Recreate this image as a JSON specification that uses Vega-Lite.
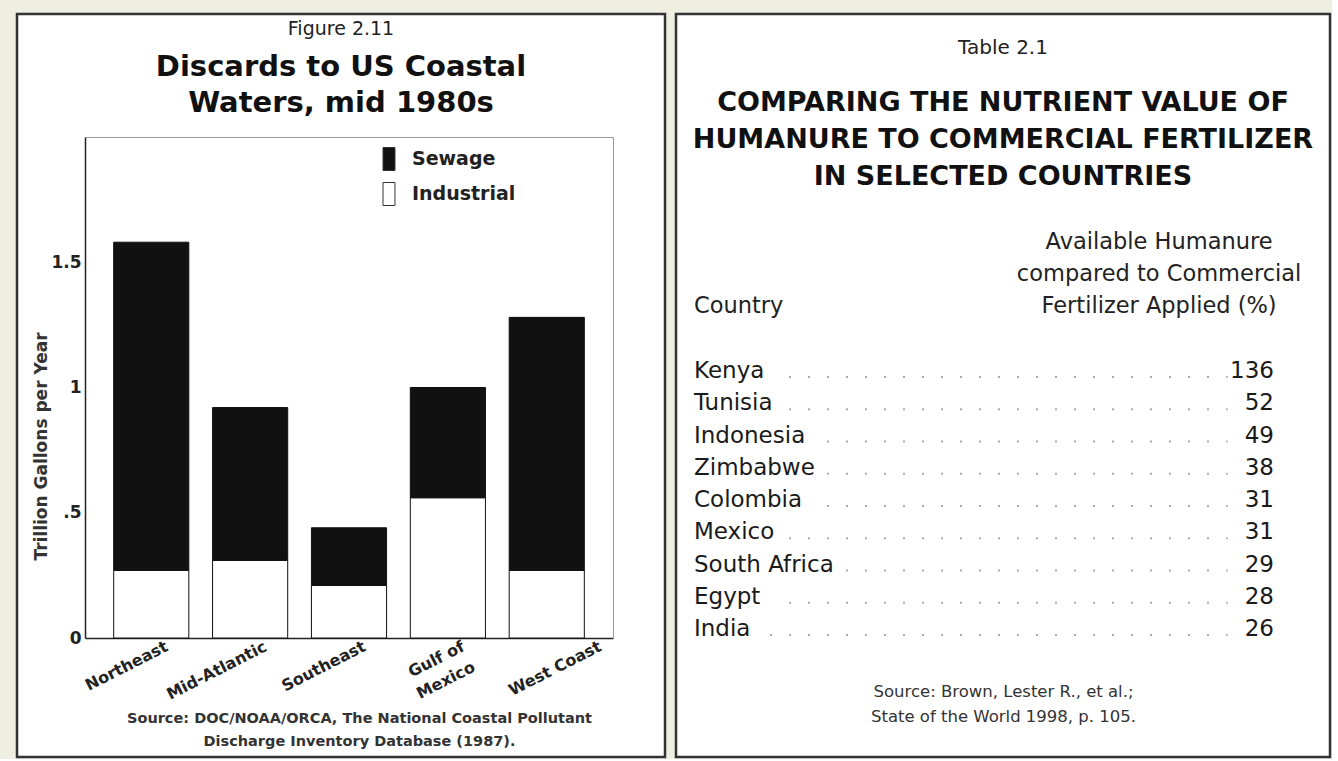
{
  "$schema": "https://vega.github.io/schema/vega-lite/v6.json",
  "background": "#eeefe0",
  "padding": {"left": 15, "top": 12, "right": 0, "bottom": 0},
  "spacing": 7,
  "config": {
    "font": "DejaVu Sans",
    "view": {"stroke": "#333333", "strokeWidth": 2.5, "fill": "white"}
  },
  "datasets": {
    "discards": [
      {"region": "Northeast", "type": "Industrial", "value": 0.27},
      {"region": "Northeast", "type": "Sewage", "value": 1.31},
      {"region": "Mid-Atlantic", "type": "Industrial", "value": 0.31},
      {"region": "Mid-Atlantic", "type": "Sewage", "value": 0.61},
      {"region": "Southeast", "type": "Industrial", "value": 0.21},
      {"region": "Southeast", "type": "Sewage", "value": 0.23},
      {"region": "Gulf of Mexico", "type": "Industrial", "value": 0.56},
      {"region": "Gulf of Mexico", "type": "Sewage", "value": 0.44},
      {"region": "West Coast", "type": "Industrial", "value": 0.27},
      {"region": "West Coast", "type": "Sewage", "value": 1.01}
    ],
    "nutrient": [
      {"country": "Kenya", "percent": 136},
      {"country": "Tunisia", "percent": 52},
      {"country": "Indonesia", "percent": 49},
      {"country": "Zimbabwe", "percent": 38},
      {"country": "Colombia", "percent": 31},
      {"country": "Mexico", "percent": 31},
      {"country": "South Africa", "percent": 29},
      {"country": "Egypt", "percent": 28},
      {"country": "India", "percent": 26}
    ]
  },
  "hconcat": [
    {
      "width": 648,
      "height": 743,
      "title": {
        "text": "Figure 2.11",
        "subtitle": ["Discards to US Coastal", "Waters, mid 1980s"],
        "anchor": "middle",
        "frame": "group",
        "offset": -104,
        "font": "DejaVu Sans",
        "fontSize": 19,
        "fontWeight": "normal",
        "color": "#222222",
        "subtitleFont": "DejaVu Sans",
        "subtitleFontSize": 29,
        "subtitleFontWeight": "bold",
        "subtitleColor": "#111111",
        "subtitleLineHeight": 36,
        "subtitlePadding": 14
      },
      "data": {"name": "discards"},
      "layer": [
        {
          "mark": {"type": "bar", "stroke": "#111111", "strokeWidth": 1},
          "encoding": {
            "x": {
              "field": "region",
              "type": "nominal",
              "sort": null,
              "scale": {"range": [68, 596], "paddingInner": 0.24, "paddingOuter": 0.29},
              "axis": {
                "orient": "bottom",
                "offset": -119,
                "domainColor": "#222222",
                "domainWidth": 1.5,
                "ticks": false,
                "labelAngle": -27,
                "labelAlign": "right",
                "labelBaseline": "top",
                "labelOffset": {"condition": {"test": "datum.value == 'West Coast'", "value": 50}, "value": 12},
                "labelPadding": 0,
                "labelLimit": 0,
                "labelOverlap": false,
                "labelFont": "DejaVu Sans",
                "labelFontWeight": "bold",
                "labelFontSize": 16,
                "labelColor": "#222222",
                "labelLineHeight": 23,
                "labelExpr": "datum.value == 'Gulf of Mexico' ? ['Gulf of', 'Mexico'] : datum.label",
                "title": ["Source: DOC/NOAA/ORCA, The National Coastal Pollutant", "Discharge Inventory Database (1987)."],
                "titleFont": "DejaVu Sans",
                "titleFontSize": 14.5,
                "titleFontWeight": "bold",
                "titleColor": "#333333",
                "titleX": 342,
                "titleY": 84,
                "titleAlign": "center",
                "titleBaseline": "alphabetic",
                "titleLineHeight": 23
              }
            },
            "y": {
              "field": "value",
              "type": "quantitative",
              "stack": "zero",
              "scale": {"domain": [0, 2], "range": [624, 123], "nice": false, "zero": true},
              "axis": {
                "orient": "left",
                "offset": -68,
                "values": [0, 0.5, 1, 1.5],
                "grid": false,
                "ticks": false,
                "domainColor": "#222222",
                "domainWidth": 1.5,
                "labelPadding": 4,
                "labelFont": "DejaVu Sans",
                "labelFontWeight": "bold",
                "labelFontSize": 17,
                "labelColor": "#222222",
                "labelExpr": "datum.value == 0 ? '0' : datum.value == 0.5 ? '.5' : datum.value == 1 ? '1' : '1.5'",
                "title": "Trillion Gallons per Year",
                "titleFont": "DejaVu Sans",
                "titleFontSize": 17,
                "titleFontWeight": "bold",
                "titleColor": "#333333",
                "titleX": -44,
                "titleY": 432,
                "titleAngle": -90,
                "titleAlign": "center",
                "titleBaseline": "middle"
              }
            },
            "color": {
              "field": "type",
              "type": "nominal",
              "scale": {"domain": ["Sewage", "Industrial"], "range": ["#111111", "#ffffff"]},
              "legend": {
                "orient": "none",
                "legendX": 360,
                "legendY": 133,
                "title": null,
                "padding": 0,
                "symbolType": "M-0.52,-1H0.52V1H-0.52Z",
                "symbolSize": 529,
                "symbolStrokeColor": "#333333",
                "symbolStrokeWidth": 1,
                "labelFont": "DejaVu Sans",
                "labelFontSize": 19,
                "labelFontWeight": "bold",
                "labelColor": "#222222",
                "labelOffset": 11,
                "rowPadding": 7
              }
            },
            "order": {"field": "type", "sort": "ascending"}
          }
        },
        {
          "mark": {"type": "bar", "opacity": 0},
          "encoding": {
            "x": {
              "field": "region",
              "type": "nominal",
              "sort": null,
              "axis": {"orient": "top", "offset": -123, "labels": false, "ticks": false, "title": null, "domainColor": "#999999", "domainWidth": 1}
            },
            "y": {
              "field": "value",
              "type": "quantitative",
              "aggregate": "sum",
              "axis": {"orient": "right", "offset": -52, "labels": false, "ticks": false, "grid": false, "title": null, "domainColor": "#999999", "domainWidth": 1}
            }
          }
        }
      ],
      "resolve": {"axis": {"x": "independent", "y": "independent"}}
    },
    {
      "width": 654,
      "height": 743,
      "title": {
        "text": "Table 2.1",
        "subtitle": ["COMPARING THE NUTRIENT VALUE OF", "HUMANURE TO COMMERCIAL FERTILIZER", "IN SELECTED COUNTRIES"],
        "anchor": "middle",
        "frame": "group",
        "offset": -176,
        "font": "DejaVu Sans",
        "fontSize": 20,
        "fontWeight": "normal",
        "color": "#222222",
        "subtitleFont": "DejaVu Sans",
        "subtitleFontSize": 27,
        "subtitleFontWeight": "bold",
        "subtitleColor": "#111111",
        "subtitleLineHeight": 37,
        "subtitlePadding": 32
      },
      "data": {"name": "nutrient"},
      "encoding": {
        "y": {
          "field": "country",
          "type": "nominal",
          "sort": null,
          "scale": {"type": "point", "range": [357, 615], "padding": 0},
          "axis": null
        }
      },
      "layer": [
        {
          "mark": {"type": "rule", "stroke": "#aaaaaa", "strokeWidth": 2, "strokeDash": [2, 17], "yOffset": 6, "x2Offset": 11},
          "encoding": {
            "x": {
              "datum": "Country",
              "type": "nominal",
              "bandPosition": 0,
              "scale": {"domain": ["Country", "pct"], "range": [18, 598], "paddingInner": 0.753, "paddingOuter": 0},
              "axis": {
                "orient": "top",
                "offset": -239,
                "domain": false,
                "ticks": false,
                "title": null,
                "labelAngle": 0,
                "labelPadding": {"condition": {"test": "datum.value === 'Country'", "value": -64}, "value": 0},
                "labelLimit": 0,
                "labelOverlap": false,
                "labelBound": false,
                "labelFont": "DejaVu Sans",
                "labelFontSize": 22.5,
                "labelColor": "#222222",
                "labelLineHeight": 32,
                "labelBaseline": "bottom",
                "labelOffset": -57.5,
                "labelAlign": {"condition": {"test": "datum.value === 'Country'", "value": "left"}, "value": "center"},
                "labelExpr": "datum.value === 'Country' ? 'Country' : ['Available Humanure', 'compared to Commercial', 'Fertilizer Applied (%)']"
              }
            },
            "x2": {"datum": "pct"}
          }
        },
        {
          "mark": {"type": "text", "align": "left", "baseline": "middle", "fontSize": 23, "fill": "white", "stroke": "white", "strokeWidth": 26, "strokeJoin": "round"},
          "encoding": {
            "x": {"datum": "Country", "type": "nominal", "bandPosition": 0, "axis": null},
            "text": {"field": "country", "type": "nominal"}
          }
        },
        {
          "mark": {"type": "text", "align": "left", "baseline": "middle", "fontSize": 23, "color": "#1a1a1a"},
          "encoding": {
            "x": {"datum": "Country", "type": "nominal", "bandPosition": 0, "axis": null},
            "text": {"field": "country", "type": "nominal"}
          }
        },
        {
          "mark": {"type": "text", "align": "right", "baseline": "middle", "fontSize": 23, "color": "#1a1a1a"},
          "encoding": {
            "x": {
              "datum": "pct",
              "type": "nominal",
              "bandPosition": 1,
              "axis": {
                "orient": "bottom",
                "labels": false,
                "ticks": false,
                "domain": false,
                "title": ["Source: Brown, Lester R., et al.;", "State of the World 1998, p. 105."],
                "titleFont": "DejaVu Sans",
                "titleFontSize": 16.5,
                "titleFontWeight": "normal",
                "titleColor": "#333333",
                "titleX": 327,
                "titleY": -61,
                "titleAlign": "center",
                "titleBaseline": "alphabetic",
                "titleLineHeight": 25
              }
            },
            "text": {"field": "percent", "type": "quantitative"}
          }
        }
      ],
      "resolve": {"axis": {"x": "independent"}}
    }
  ]
}
